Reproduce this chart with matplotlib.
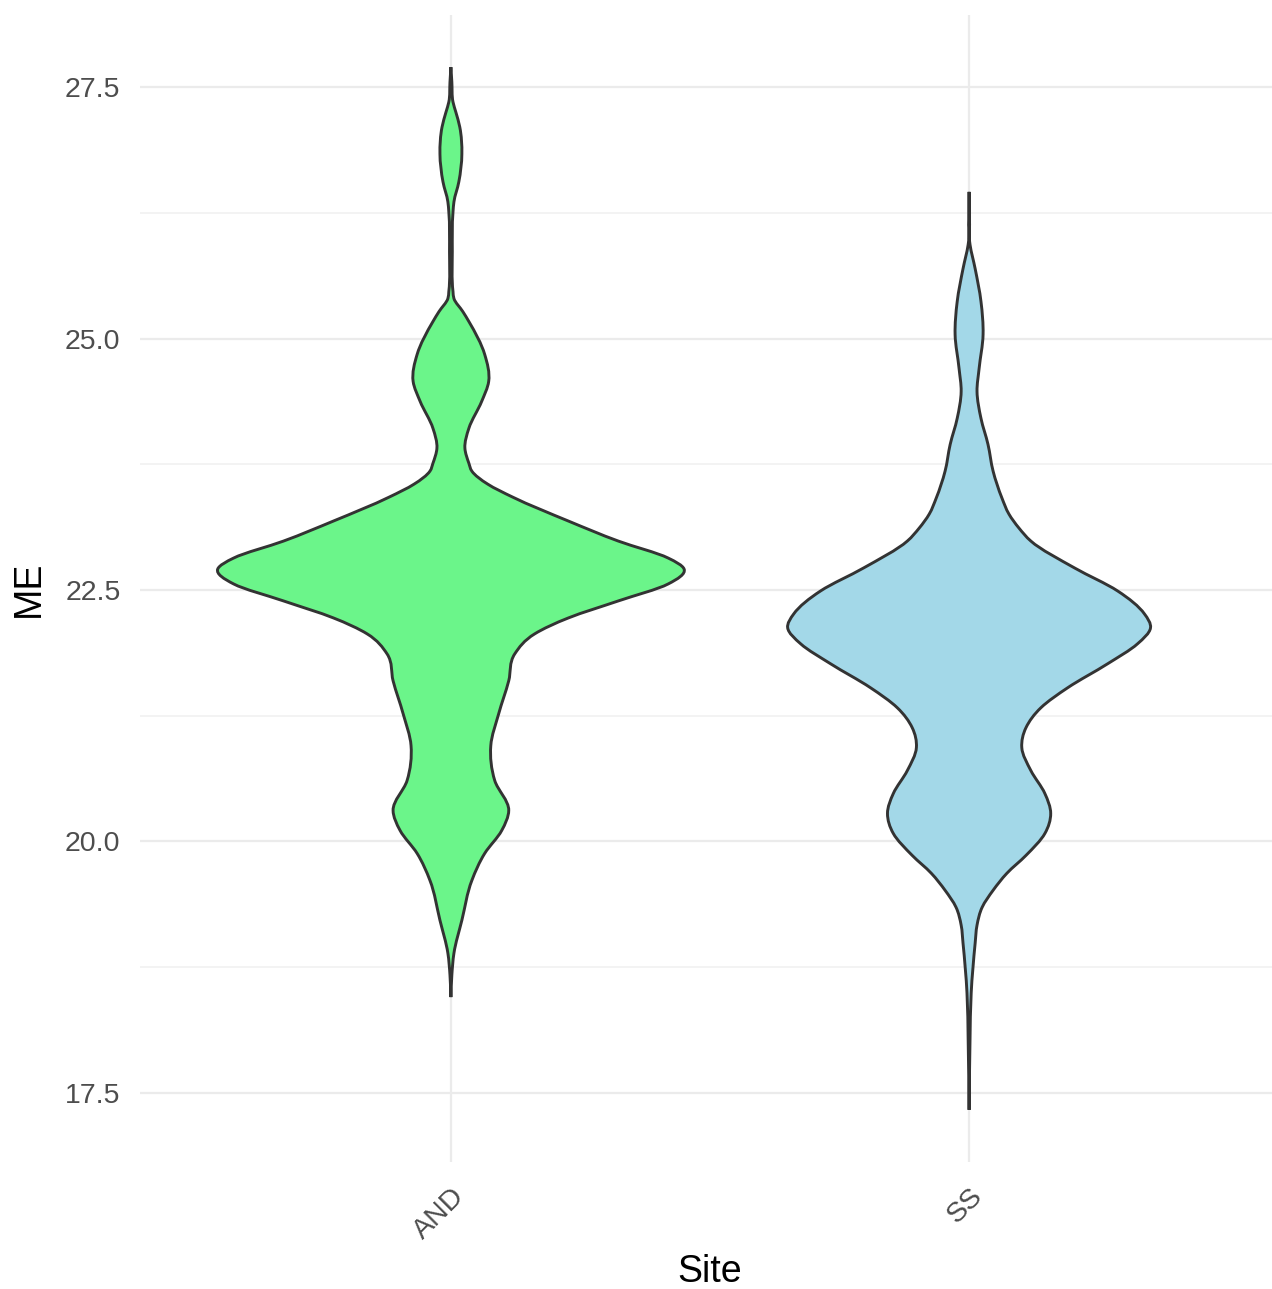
import numpy as np
import matplotlib
matplotlib.use("Agg")
from matplotlib import pyplot as plt
from matplotlib.path import Path
from matplotlib.patches import PathPatch

plt.rcParams['font.family'] = ['Liberation Sans', 'DejaVu Sans']

sites = ["AND", "SS"]
fills = ["#6bf58a", "#a3d8e8"]

# density profiles of ME per site (ME value, relative density)
and_me = [18.452, 18.671, 18.889, 19.216, 19.613, 19.881, 20.109, 20.308, 20.605,
          20.952, 21.270, 21.597, 21.865, 22.063, 22.222, 22.391, 22.560,
          22.708, 22.817, 22.986, 23.185, 23.423, 23.552, 23.681, 23.760, 23.909,
          24.107, 24.375, 24.573, 24.841, 25.169, 25.268, 25.397, 25.466, 25.863,
          26.260, 26.359, 26.558, 26.835, 27.103, 27.252, 27.351, 27.550, 27.698]
and_dens = [0.0, 0.004, 0.013, 0.047, 0.090, 0.145, 0.218, 0.248, 0.188,
            0.171, 0.205, 0.248, 0.274, 0.359, 0.504, 0.718, 0.932,
            1.0, 0.932, 0.718, 0.504, 0.265, 0.158, 0.090, 0.077, 0.060,
            0.077, 0.132, 0.162, 0.145, 0.077, 0.051, 0.013, 0.009, 0.006,
            0.009, 0.013, 0.034, 0.047, 0.038, 0.021, 0.009, 0.004, 0.0]

ss_me = [17.331, 18.026, 18.492, 18.988, 19.167, 19.345, 19.514, 19.683, 19.861,
         20.079, 20.278, 20.476, 20.704, 20.933, 21.131, 21.329, 21.528, 21.766,
         21.964, 22.123, 22.262, 22.490, 22.718, 22.986, 23.115, 23.254, 23.413,
         23.681, 23.948, 24.206, 24.474, 24.702, 25.040, 25.367, 25.694, 25.933,
         26.458]
ss_dens = [0.0, 0.004, 0.009, 0.026, 0.034, 0.056, 0.103, 0.162, 0.244,
           0.325, 0.350, 0.325, 0.265, 0.226, 0.244, 0.308, 0.423, 0.594,
           0.722, 0.778, 0.752, 0.637, 0.453, 0.265, 0.214, 0.171, 0.141,
           0.103, 0.081, 0.051, 0.034, 0.043, 0.060, 0.051, 0.026, 0.004,
           0.0]

profiles = [(and_me, and_dens), (ss_me, ss_dens)]


def slopes(y, w):
    """weighted finite-difference slope dw/dy at every knot"""
    h = np.diff(y)
    s = np.diff(w) / h
    m = np.empty_like(w)
    m[0], m[-1] = s[0], s[-1]
    m[1:-1] = (s[1:] * h[:-1] + s[:-1] * h[1:]) / (h[:-1] + h[1:])
    return m


def side(center, y, w, m, sign):
    """bezier pieces of one half of the outline, in the order of y"""
    verts = []
    for i in range(len(y) - 1):
        h = y[i + 1] - y[i]
        c1 = (center + sign * (w[i] + m[i] * h / 3), y[i] + h / 3)
        c2 = (center + sign * (w[i + 1] - m[i + 1] * h / 3), y[i + 1] - h / 3)
        verts += [c1, c2, (center + sign * w[i + 1], y[i + 1])]
    return verts


def violin_path(center, me, dens, half=0.45):
    y = np.asarray(me, float)
    w = np.asarray(dens, float) * half
    m = slopes(y, w)
    verts = [(center, y[0])]
    verts += side(center, y, w, m, 1)
    # left half runs from the top back down to the bottom tip
    verts += side(center, y[::-1], w[::-1], m[::-1], -1)
    codes = [Path.MOVETO] + [Path.CURVE4] * (len(verts) - 1)
    verts.append((center, y[0]))
    codes.append(Path.CLOSEPOLY)
    return Path(verts, codes)


fig = plt.figure(figsize=(12.72, 12.89), dpi=100)
ax = fig.add_axes([140 / 1272, 127 / 1289, 1140 / 1272, 1147 / 1289])

for i, (me, dens) in enumerate(profiles):
    patch = PathPatch(violin_path(i + 1, me, dens), facecolor=fills[i],
                      edgecolor="#333333", linewidth=2.1, zorder=3)
    ax.add_patch(patch)

lo = min(min(m) for m, _ in profiles)
hi = max(max(m) for m, _ in profiles)
span = hi - lo
ax.set_ylim(lo - 0.05 * span, hi + 0.05 * span)
ax.set_xlim(0.4, 2.6)

ax.set_yticks([17.5, 20.0, 22.5, 25.0, 27.5])
ax.set_yticklabels(["17.5", "20.0", "22.5", "25.0", "27.5"])
ax.set_yticks([18.75, 21.25, 23.75, 26.25], minor=True)
ax.set_xticks([1, 2])
ax.set_xticklabels(sites, rotation=45, ha="right", va="top",
                   rotation_mode="anchor")

ax.grid(True, which="major", color="#ebebeb", linewidth=1.6, zorder=0)
ax.grid(True, which="minor", axis="y", color="#f0f0f0", linewidth=1.1, zorder=0)
ax.set_axisbelow(True)
for s in ax.spines.values():
    s.set_visible(False)
ax.tick_params(which="both", length=0)
ax.tick_params(axis="y", labelsize=20.5, labelcolor="#4d4d4d", pad=14)
ax.tick_params(axis="x", labelsize=20.5, labelcolor="#4d4d4d", pad=15)

ax.set_xlabel("Site", fontsize=27, color="black", labelpad=7)
ax.set_ylabel("ME", fontsize=27, color="black", labelpad=13)

fig.savefig("out.png", dpi=100, facecolor="white")
